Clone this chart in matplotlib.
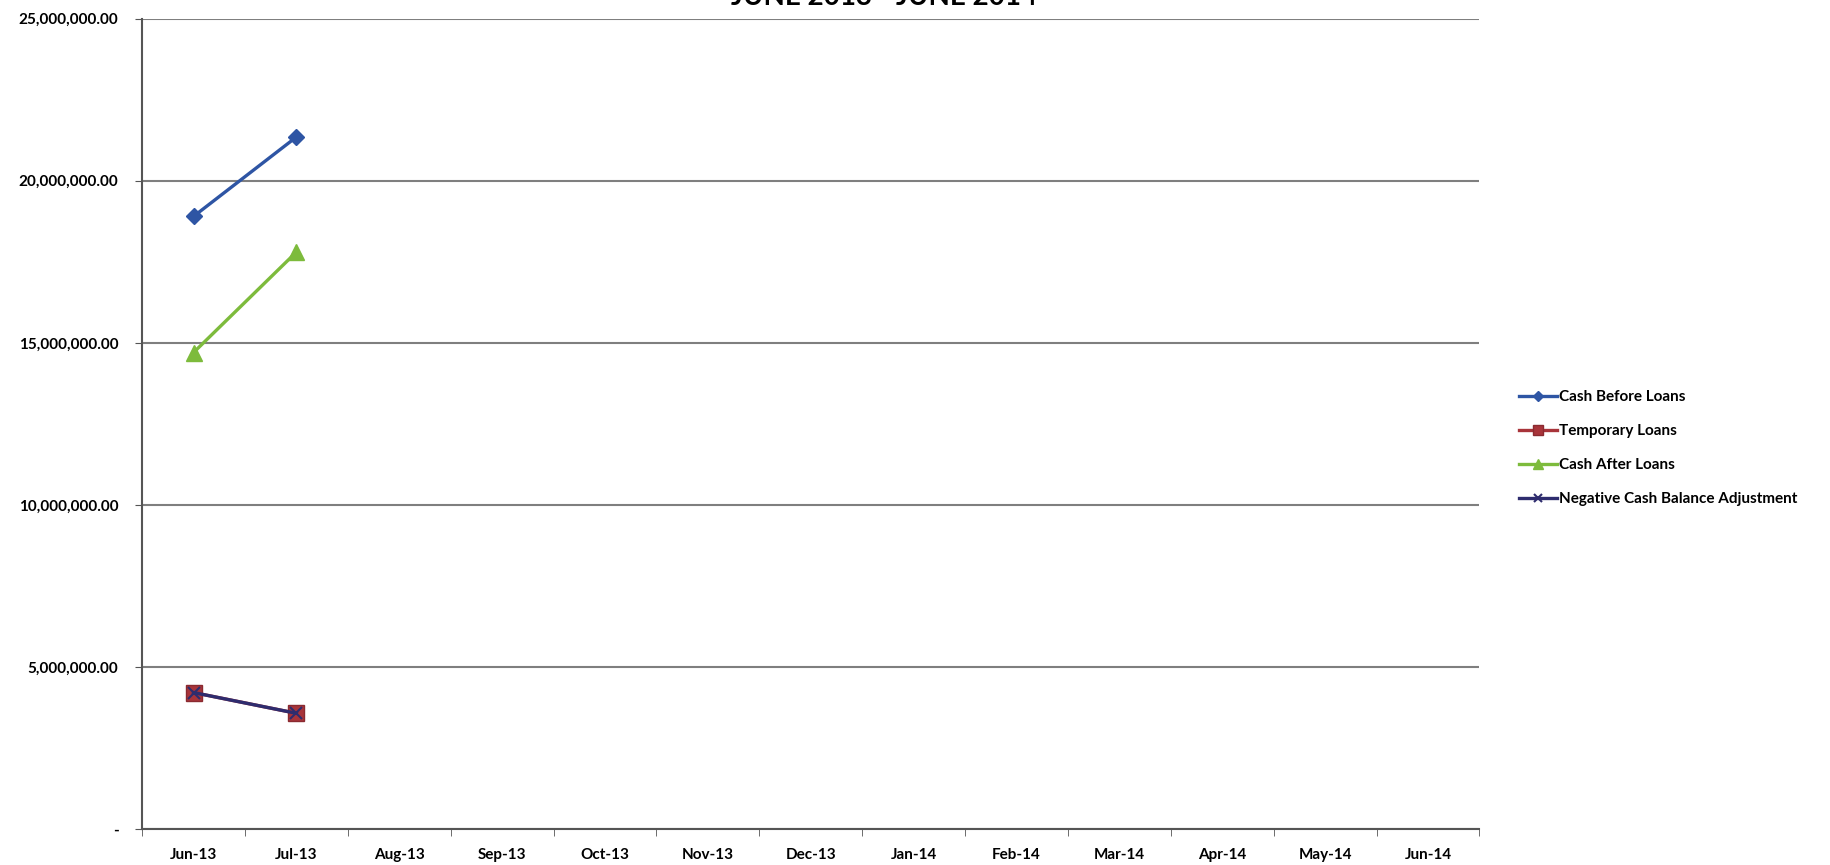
import numpy as np
import matplotlib.pyplot as plt
from matplotlib.ticker import FuncFormatter

plt.rcParams['font.family'] = ['Lato', 'DejaVu Sans']
plt.rcParams['font.weight'] = 'bold'

months = ['Jun-13', 'Jul-13', 'Aug-13', 'Sep-13', 'Oct-13', 'Nov-13', 'Dec-13',
          'Jan-14', 'Feb-14', 'Mar-14', 'Apr-14', 'May-14', 'Jun-14']

# only the first two months are filled in
cash_before = [18900000, 21350000]
temp_loans = [4210000, 3570000]
cash_after = [14700000, 17800000]
neg_adjust = [4210000, 3570000]

fig = plt.figure(figsize=(18.31, 8.65), dpi=100)
ax = fig.add_axes([0.0776, 0.0416, 0.7304, 0.9368])

x = np.arange(len(cash_before))
ax.plot(x, cash_before, color='#2E55A4', lw=2.4, marker='D', ms=8,
        mec='#2E55A4', label='Cash Before Loans', zorder=4)
ax.plot(x, temp_loans, color='#A8343A', lw=2.4, marker='s', ms=11,
        mec='#8A2A30', label='Temporary Loans', zorder=3)
ax.plot(x, cash_after, color='#7DBB3C', lw=2.4, marker='^', ms=11,
        mec='#7DBB3C', label='Cash After Loans', zorder=4)
ax.plot(x, neg_adjust, color='#2E2C6E', lw=2.4, marker='x', ms=8, mew=1.5,
        label='Negative Cash Balance Adjustment', zorder=5)

ax.set_xlim(-0.5, len(months) - 0.5)
ax.set_ylim(0, 25000000)
ax.set_yticks(np.arange(0, 25000001, 5000000))
ax.yaxis.set_major_formatter(FuncFormatter(lambda v, p: '-' if v == 0 else f'{v:,.2f}'))
ax.set_xticks(np.arange(len(months)))
ax.set_xticklabels(months)
ax.set_xticks(np.arange(len(months) + 1) - 0.5, minor=True)
ax.tick_params(axis='x', which='major', length=0, pad=14, labelsize=11)
ax.tick_params(axis='x', which='minor', length=5, color='#555555', direction='out')
ax.tick_params(axis='y', length=5, color='#555555', labelsize=11, pad=12)

ax.grid(axis='y', color='#7f7f7f', lw=1.5)
ax.set_axisbelow(True)
for s in ['top', 'right']:
    ax.spines[s].set_visible(False)
for s in ['left', 'bottom']:
    ax.spines[s].set_color('#555555')
    ax.spines[s].set_linewidth(1.5)

fig.text(0.483, 0.9884, 'JUNE 2013 - JUNE 2014', ha='center', va='bottom',
         fontsize=20, fontweight='bold')

ax.legend(loc='center left', bbox_to_anchor=(0.822, 0.482), bbox_transform=fig.transFigure,
          frameon=False, fontsize=11, handlelength=2.5, handletextpad=0.1,
          labelspacing=1.3, markerscale=0.7)

fig.savefig('out.png', dpi=100)
